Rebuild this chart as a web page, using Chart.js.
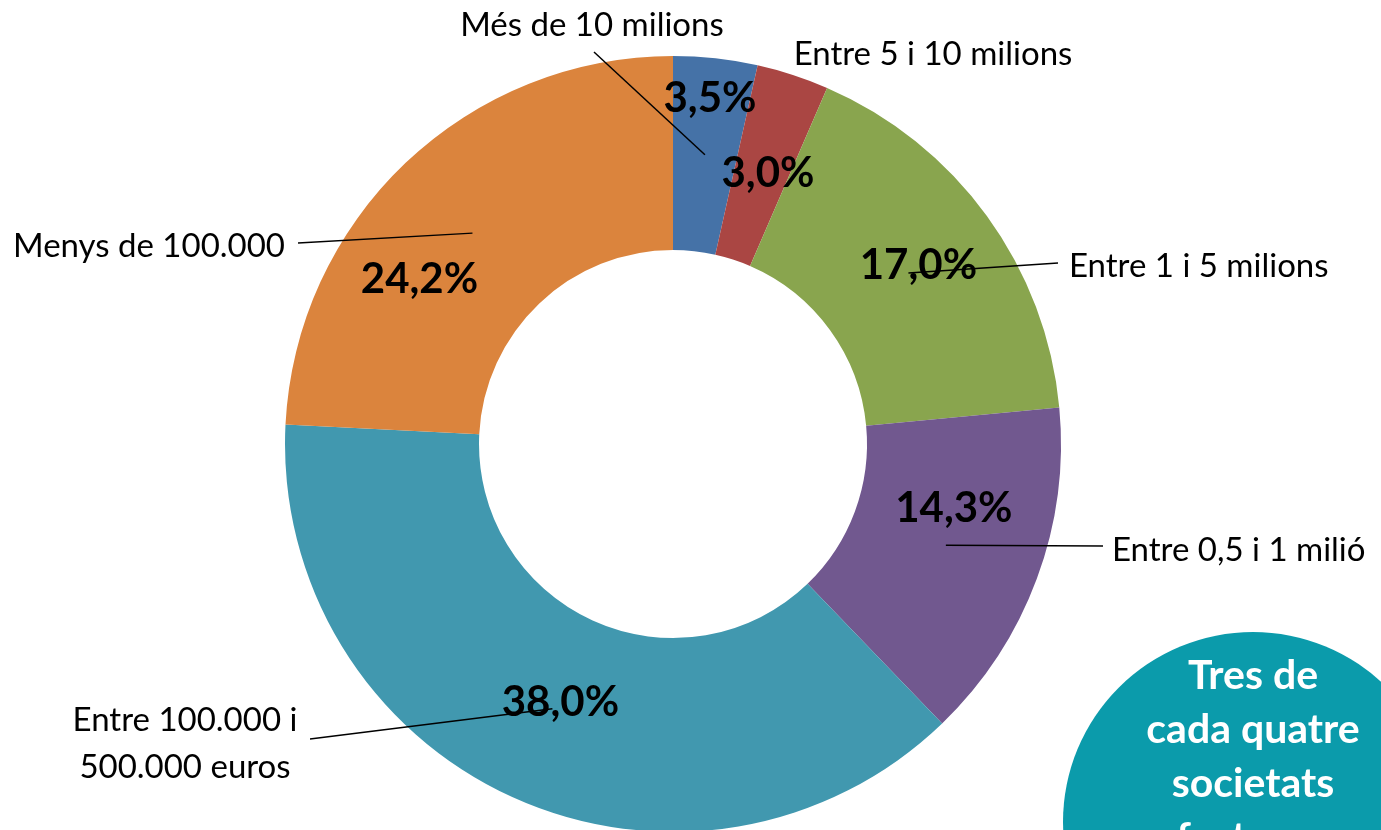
<!doctype html>
<html>

<head>
  <title>Societats per volum de facturació</title>
  <script src="https://cdn.jsdelivr.net/npm/chart.js@4/dist/chart.umd.min.js"></script>
  <style>
  html, body {
    margin: 0;
    padding: 0;
    overflow: hidden;
    background: #fff;
  }
  #container {
    position: relative;
    width: 1381px;
    height: 888px;
  }
  #nota {
    position: absolute;
    left: 1063px;
    top: 632px;
    width: 380px;
    height: 380px;
    border-radius: 50%;
    background: #0b9bab;
    color: #fff;
    font: bold 41px Lato, sans-serif;
    line-height: 54px;
    text-align: center;
    box-sizing: border-box;
    padding-top: 15px;
  }
  </style>
</head>

<body>
  <div id="container">
    <canvas id="canvas"></canvas>
    <div id="nota">Tres de<br>cada quatre<br>societats<br>facturen</div>
  </div>
  <script>
    // trams de facturació, en sentit horari des de dalt
    var categories = [
      'Més de 10 milions',
      'Entre 5 i 10 milions',
      'Entre 1 i 5 milions',
      'Entre 0,5 i 1 milió',
      'Entre 100.000 i\n500.000 euros',
      'Menys de 100.000'
    ];
    var shares = [3.5, 3.0, 17.0, 14.3, 38.0, 24.2];
    var sliceColors = ['#4572a7', '#aa4643', '#89a54e', '#71588f', '#4198af', '#db843d'];

    function fmt(v) {
      return v.toFixed(1).replace('.', ',') + '%';
    }

    // etiquetes i línies de guia (posicions relatives al centre del donut)
    var sliceLabels = {
      id: 'sliceLabels',
      afterDatasetsDraw: function(chart, args, opts) {
        var ctx = chart.ctx;
        var arcs = chart.getDatasetMeta(0).data;
        var cx = arcs[0].x, cy = arcs[0].y;
        ctx.save();

        ctx.fillStyle = '#000';
        ctx.font = 'bold ' + opts.pctSize + 'px Lato, sans-serif';
        ctx.textAlign = 'center';
        ctx.textBaseline = 'alphabetic';
        arcs.forEach(function(arc, i) {
          var p = arc.tooltipPosition(true);
          var s = opts.pctShift[i];
          ctx.fillText(fmt(shares[i]), p.x + s[0], p.y + s[1] + opts.pctSize * 0.36);
        });

        ctx.strokeStyle = '#000';
        ctx.lineWidth = 1.5;
        arcs.forEach(function(arc, i) {
          var c = opts.callouts[i];
          if (!c.line) return;
          var p = arc.tooltipPosition(true);
          ctx.beginPath();
          ctx.moveTo(cx + c.line[0], cy + c.line[1]);
          ctx.lineTo(p.x, p.y);
          ctx.stroke();
        });

        ctx.font = opts.catSize + 'px Lato, sans-serif';
        arcs.forEach(function(arc, i) {
          var c = opts.callouts[i];
          ctx.textAlign = c.align;
          categories[i].split('\n').forEach(function(line, k) {
            ctx.fillText(line, cx + c.text[0], cy + c.text[1] + k * opts.lineGap + opts.catSize * 0.36);
          });
        });
        ctx.restore();
      }
    };

    window.onload = function() {
      var ctx = document.getElementById('canvas').getContext('2d');
      window.myDonut = new Chart(ctx, {
        type: 'doughnut',
        data: {
          labels: categories,
          datasets: [{
            data: shares,
            backgroundColor: sliceColors,
            borderWidth: 0
          }]
        },
        options: {
          responsive: true,
          maintainAspectRatio: false,
          animation: false,
          cutout: '50%',
          layout: {
            padding: {left: 285, right: 320, top: 56, bottom: 56}
          },
          plugins: {
            legend: {display: false},
            tooltip: {enabled: false},
            sliceLabels: {
              pctSize: 42,
              catSize: 33,
              lineGap: 47,
              pctShift: [[5, -58], [5, 5], [10, -9], [8, -38], [8, -8], [-53, 45]],
              callouts: [
                {text: [-81, -420], align: 'center', line: [-79, -392]},
                {text: [260, -391], align: 'center', line: null},
                {text: [396, -179], align: 'left', line: [385, -181]},
                {text: [439, 105], align: 'left', line: [430, 102]},
                {text: [-488, 275], align: 'center', line: [-363, 295]},
                {text: [-388, -199], align: 'right', line: [-375, -201]}
              ]
            }
          }
        },
        plugins: [sliceLabels]
      });
    };
  </script>
</body>

</html>
